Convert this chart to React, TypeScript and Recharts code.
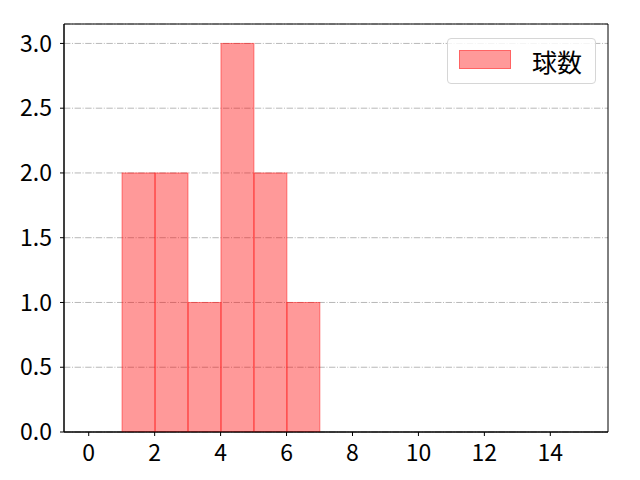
import React from "react";
import { BarChart, Bar, XAxis, YAxis, CartesianGrid, Legend, ReferenceArea } from "recharts";

const binStarts = [1, 2, 3, 4, 5, 6];
const binWidth = 1;
const counts = [2, 2, 1, 3, 2, 1];
const xTicks = [0, 2, 4, 6, 8, 10, 12, 14];
const yTicks = [0, 0.5, 1.0, 1.5, 2.0, 2.5, 3.0];
const xDomain: [number, number] = [-0.75, 15.75];
const yDomain: [number, number] = [0, 3.15];
const seriesName = "球数";

const data = binStarts.map((s, i) => ({ x: s + binWidth / 2, count: counts[i] }));

const W = 640;
const H = 480;
const M = { top: 24, right: 32, left: 0, bottom: 0 };
const YW = 64;
const XH = 48;
const plotW = W - M.left - M.right - YW;
const barPx = (plotW / (xDomain[1] - xDomain[0])) * binWidth;

const FONT = "'Noto Sans CJK JP', 'Noto Sans', sans-serif";
const FS = 23;

const BinShape = (props: any) => {
  const { x, y, width, height } = props;
  if (height == null || height <= 0) return null;
  const cx = x + width / 2;
  return (
    <rect
      x={cx - barPx / 2}
      y={y}
      width={barPx}
      height={height}
      fill="#ff0000"
      fillOpacity={0.4}
      stroke="#ff0000"
      strokeOpacity={0.45}
      strokeWidth={1}
    />
  );
};

const LegendBox = () => (
  <div
    style={{
      position: "relative",
      width: "100%",
      height: "100%",
      boxSizing: "border-box",
      border: "1px solid #d6d6d6",
      borderRadius: 4,
      background: "rgba(255,255,255,0.85)",
      fontFamily: FONT,
    }}
  >
    <div
      style={{
        position: "absolute",
        left: 11,
        top: 11,
        width: 52,
        height: 19,
        boxSizing: "border-box",
        background: "#ff9999",
        border: "1px solid rgba(255,0,0,0.35)",
      }}
    />
    <div
      style={{
        position: "absolute",
        left: 84,
        top: 0,
        height: "100%",
        display: "flex",
        alignItems: "center",
        fontSize: 25,
        color: "#000",
        lineHeight: 1,
      }}
    >
      {seriesName}
    </div>
  </div>
);

export default function App() {
  return (
    <div style={{ position: "absolute", left: 0, top: 0, width: W, height: H, background: "#fff" }}>
      <BarChart width={W} height={H} data={data} margin={M} barCategoryGap={0} barGap={0}>
        <CartesianGrid
          horizontal
          vertical={false}
          stroke="#b0b0b0"
          strokeWidth={0.9}
          strokeDasharray="6.4 1.6 1 1.6"
        />
        <XAxis
          dataKey="x"
          type="number"
          domain={xDomain}
          allowDataOverflow
          ticks={xTicks}
          interval={0}
          height={XH}
          tickSize={4}
          tickMargin={9}
          stroke="#000"
          tickLine={{ stroke: "#000" }}
          axisLine={{ stroke: "#000" }}
          tick={{ fill: "#000", fontSize: FS, fontFamily: FONT }}
        />
        <YAxis
          type="number"
          domain={yDomain}
          allowDataOverflow
          ticks={yTicks}
          interval={0}
          width={YW}
          tickSize={4}
          tickMargin={8}
          tickFormatter={(v: number) => v.toFixed(1)}
          stroke="#000"
          tickLine={{ stroke: "#000" }}
          axisLine={{ stroke: "#000" }}
          tick={{ fill: "#000", fontSize: FS, fontFamily: FONT }}
        />
        <Bar
          dataKey="count"
          name={seriesName}
          barSize={barPx}
          fill="#ff9999"
          shape={BinShape}
          isAnimationActive={false}
        />
        <ReferenceArea
          x1={xDomain[0]}
          x2={xDomain[1]}
          y1={yDomain[0]}
          y2={yDomain[1]}
          fill="none"
          fillOpacity={0}
          stroke="#000"
          strokeWidth={1}
          ifOverflow="visible"
        />
        <Legend
          layout="vertical"
          align="center"
          verticalAlign="middle"
          content={() => <LegendBox />}
          wrapperStyle={{ position: "absolute", left: 447, top: 38, width: 149, height: 46, margin: 0 }}
        />
      </BarChart>
    </div>
  );
}
